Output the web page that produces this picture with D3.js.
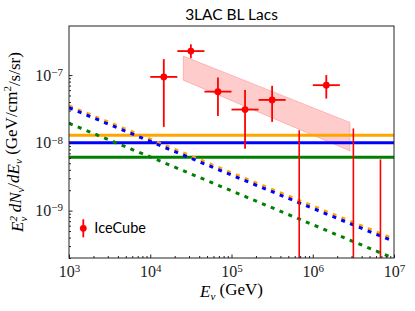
<!DOCTYPE html>
<html>
<head>
<meta charset="utf-8">
<script src="https://cdn.jsdelivr.net/npm/d3@7"></script>
<style>
  body { margin: 0; background: #fff; }
  svg { display: block; }
</style>
</head>
<body>
<div id="chart"></div>
<script>
// chart size and plot box
const width = 415;
const height = 311;
const margin = {left: 69, right: 21, top: 26, bottom: 53};

// model curves read at each decade of energy (GeV)
const modelEnergy = [1e3, 1e4, 1e5, 1e6, 1e7];
const orangeDashed = [3.5e-8, 1.13e-8, 3.6e-9, 1.17e-9, 3.8e-10];
const blueDashed = [3.3e-8, 1.05e-8, 3.35e-9, 1.08e-9, 3.5e-10];
const greenDashed = [1.94e-8, 6.2e-9, 1.96e-9, 6.2e-10, 1.97e-10];

// flat levels
const orangeFlat = 1.29e-8;
const blueFlat = 1.0e-8;
const greenFlat = 6.15e-9;

// IceCube points: bin centre, bin edges, flux and its error range
const icEnergy = [1.468e4, 3.162e4, 6.81e4, 1.468e5, 3.162e5, 1.468e6];
const icELow = [1.0e4, 2.154e4, 4.642e4, 1.0e5, 2.154e5, 1.0e6];
const icEHigh = [2.154e4, 4.642e4, 1.0e5, 2.154e5, 4.642e5, 2.154e6];
const icFlux = [9.4e-8, 2.26e-7, 5.7e-8, 3.1e-8, 4.3e-8, 7.1e-8];
const icFluxLow = [1.72e-8, 1.77e-7, 2.48e-8, 8.2e-9, 2.04e-8, 4.5e-8];
const icFluxHigh = [1.72e-7, 2.84e-7, 9.25e-8, 6.0e-8, 6.95e-8, 1.0e-7];

// IceCube bins with only an upper value (bar runs down off the plot)
const ulEnergy = [6.81e5, 3.162e6, 6.81e6];
const ulFlux = [1.54e-8, 1.63e-8, 5.7e-9];

// shaded band
const bandEnergy = [2.55e4, 2.88e6];
const bandLow = [8.4e-8, 7.6e-9];
const bandHigh = [1.91e-7, 2.0e-8];

const xTicks = [1e3, 1e4, 1e5, 1e6, 1e7];
const yTicks = [1e-9, 1e-8, 1e-7];

const svg = d3.select("#chart")
  .append("svg")
  .attr("width", width)
  .attr("height", height);

const x = d3.scaleLog()
  .domain([1e3, 1e7])
  .range([margin.left, width - margin.right]);

const y = d3.scaleLog()
  .domain([2e-10, 5.3e-7])
  .range([height - margin.bottom, margin.top]);

svg.append("clipPath")
  .attr("id", "plotclip")
  .append("rect")
  .attr("x", margin.left)
  .attr("y", margin.top)
  .attr("width", width - margin.left - margin.right)
  .attr("height", height - margin.top - margin.bottom);

const plot = svg.append("g").attr("clip-path", "url(#plotclip)");

// band
const band = bandEnergy.map((e, i) => ({e: e, lo: bandLow[i], hi: bandHigh[i]}));
plot.append("path")
  .datum(band)
  .attr("d", d3.area().x(d => x(d.e)).y0(d => y(d.lo)).y1(d => y(d.hi)))
  .attr("fill", "red")
  .attr("fill-opacity", 0.2)
  .attr("stroke", "red")
  .attr("stroke-opacity", 0.2);

// flat lines
[[orangeFlat, "orange"], [blueFlat, "blue"], [greenFlat, "green"]].forEach(([v, c]) => {
  plot.append("line")
    .attr("x1", x(1e3)).attr("x2", x(1e7))
    .attr("y1", y(v)).attr("y2", y(v))
    .attr("stroke", c)
    .attr("stroke-width", 3);
});

// dashed model lines
const line = d3.line().x(d => x(d[0])).y(d => y(d[1]));
[[orangeDashed, "orange"], [blueDashed, "blue"], [greenDashed, "green"]].forEach(([vals, c]) => {
  plot.append("path")
    .datum(modelEnergy.map((e, i) => [e, vals[i]]))
    .attr("d", line)
    .attr("fill", "none")
    .attr("stroke", c)
    .attr("stroke-width", 3)
    .attr("stroke-dasharray", "4,5.5");
});

// IceCube error bars
const pts = icEnergy.map((e, i) => ({
  e: e, el: icELow[i], eh: icEHigh[i],
  f: icFlux[i], fl: icFluxLow[i], fh: icFluxHigh[i]
}));

plot.selectAll(".xerr")
  .data(pts).enter().append("line")
  .attr("x1", d => x(d.el)).attr("x2", d => x(d.eh))
  .attr("y1", d => y(d.f)).attr("y2", d => y(d.f))
  .attr("stroke", "red").attr("stroke-width", 1.8);

plot.selectAll(".yerr")
  .data(pts).enter().append("line")
  .attr("x1", d => x(d.e)).attr("x2", d => x(d.e))
  .attr("y1", d => y(d.fl)).attr("y2", d => y(d.fh))
  .attr("stroke", "red").attr("stroke-width", 1.8);

plot.selectAll(".dot")
  .data(pts).enter().append("circle")
  .attr("cx", d => x(d.e))
  .attr("cy", d => y(d.f))
  .attr("r", 3.4)
  .attr("fill", "red");

plot.selectAll(".ul")
  .data(ulEnergy).enter().append("line")
  .attr("x1", d => x(d)).attr("x2", d => x(d))
  .attr("y1", (d, i) => y(ulFlux[i]))
  .attr("y2", height)
  .attr("stroke", "red").attr("stroke-width", 1.6);

// axes (ticks pointing inward, left and bottom only)
const supLabel = function(sel) {
  sel.selectAll(".tick text").each(function(d) {
    const t = d3.select(this).text(null);
    const exp = Math.round(Math.log10(d));
    t.append("tspan").text("10");
    t.append("tspan").attr("dy", "-0.45em").attr("font-size", 11)
      .text(exp < 0 ? "\u2212" + (-exp) : exp);
  });
};

const minor = (lo, hi) => {
  const out = [];
  for (let p = lo; p < hi; p++) for (let k = 2; k < 10; k++) out.push(k * Math.pow(10, p));
  return out;
};

const xAxis = svg.append("g")
  .attr("transform", `translate(0,${height - margin.bottom})`)
  .call(d3.axisBottom(x).tickValues(xTicks).tickSize(-3.5).tickPadding(8));
xAxis.call(supLabel);

svg.append("g")
  .attr("transform", `translate(0,${height - margin.bottom})`)
  .call(d3.axisBottom(x).tickValues(minor(3, 7)).tickSize(-2).tickFormat(""));

const yAxis = svg.append("g")
  .attr("transform", `translate(${margin.left},0)`)
  .call(d3.axisLeft(y).tickValues(yTicks).tickSize(-3.5).tickPadding(6));
yAxis.call(supLabel);

svg.append("g")
  .attr("transform", `translate(${margin.left},0)`)
  .call(d3.axisLeft(y).tickValues(minor(-10, -7).filter(v => v >= 2e-10 && v <= 5.3e-7)).tickSize(-2).tickFormat(""));

svg.selectAll(".domain").remove();
svg.selectAll(".tick line").attr("stroke", "#222");
svg.selectAll(".tick text")
  .attr("font-family", "Liberation Serif, serif")
  .attr("font-size", 16)
  .attr("fill", "#222");

// frame
svg.append("rect")
  .attr("x", margin.left).attr("y", margin.top)
  .attr("width", width - margin.left - margin.right)
  .attr("height", height - margin.top - margin.bottom)
  .attr("fill", "none")
  .attr("stroke", "#222")
  .attr("stroke-width", 1);

// title
svg.append("text")
  .attr("x", (margin.left + width - margin.right) / 2)
  .attr("y", 20)
  .attr("text-anchor", "middle")
  .attr("font-family", "Lato, sans-serif")
  .attr("font-size", 15.5)
  .text("3LAC BL Lacs");

// x label
const xl = svg.append("text")
  .attr("x", (margin.left + width - margin.right) / 2)
  .attr("y", 297)
  .attr("text-anchor", "middle")
  .attr("font-family", "Liberation Serif, serif")
  .attr("font-size", 17);
xl.append("tspan").attr("font-style", "italic").text("E");
xl.append("tspan").attr("font-style", "italic").attr("font-size", 11).attr("dy", "0.3em").text("\u03bd");
xl.append("tspan").attr("dy", "-0.3em").text(" (GeV)");

// y label
const yl = svg.append("text")
  .attr("transform", `translate(23,${(margin.top + height - margin.bottom) / 2}) rotate(-90)`)
  .attr("text-anchor", "middle")
  .attr("font-family", "Liberation Serif, serif")
  .attr("font-size", 17);
yl.append("tspan").attr("font-style", "italic").text("E");
yl.append("tspan").attr("font-style", "italic").attr("font-size", 11).attr("dy", "-0.55em").text("2");
yl.append("tspan").attr("font-style", "italic").attr("font-size", 11).attr("dx", "-0.5em").attr("dy", "0.95em").text("\u03bd");
yl.append("tspan").attr("font-style", "italic").attr("dy", "-0.4em").text(" dN");
yl.append("tspan").attr("font-style", "italic").attr("font-size", 11).attr("dy", "0.3em").text("\u03bd");
yl.append("tspan").attr("dy", "-0.3em").text("/");
yl.append("tspan").attr("font-style", "italic").text("dE");
yl.append("tspan").attr("font-style", "italic").attr("font-size", 11).attr("dy", "0.3em").text("\u03bd");
yl.append("tspan").attr("dy", "-0.3em").text(" (GeV/cm");
yl.append("tspan").attr("font-size", 11).attr("dy", "-0.55em").text("2");
yl.append("tspan").attr("dy", "0.55em").text("/s/sr)");

// legend
const lg = svg.append("g").attr("transform", "translate(83.3,228.3)");
lg.append("line").attr("x1", 0).attr("x2", 0).attr("y1", -9).attr("y2", 9)
  .attr("stroke", "red").attr("stroke-width", 1.8);
lg.append("circle").attr("r", 3.4).attr("fill", "red");
lg.append("text")
  .attr("x", 11).attr("y", 5)
  .attr("font-family", "Lato, sans-serif")
  .attr("font-size", 14.5)
  .text("IceCube");
</script>
</body>
</html>
